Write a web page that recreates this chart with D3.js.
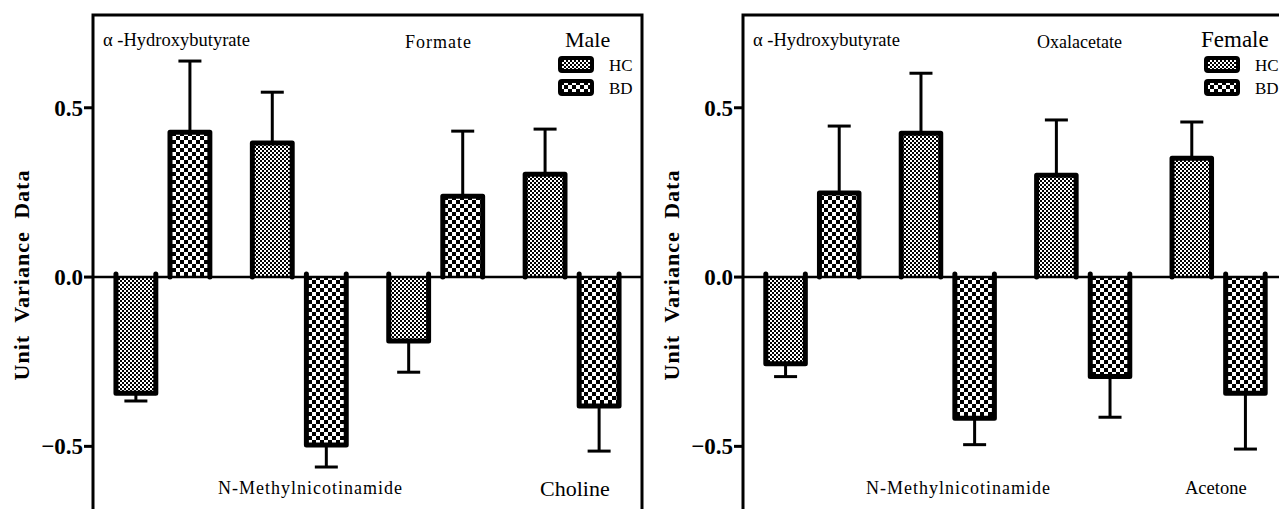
<!DOCTYPE html>
<html>
<head>
<meta charset="utf-8">
<script src="https://cdn.jsdelivr.net/npm/d3@7"></script>
<style>
  body { margin: 0; background: #fff; }
  svg { display: block; }
  text { font-family: "Liberation Serif", "Times New Roman", serif; fill: #000; }
</style>
</head>
<body>
<div id="chart"></div>
<script>
// Data
var groups = ["HC", "BD"]
var yTicks = [-0.5, 0.0, 0.5]

var maleNames = ["α -Hydroxybutyrate", "N-Methylnicotinamide", "Formate", "Choline"]
var maleHC = [-0.343, 0.396, -0.189, 0.304]
var maleHCerr = [0.023, 0.150, 0.092, 0.133]
var maleBD = [0.428, -0.496, 0.239, -0.381]
var maleBDerr = [0.210, 0.065, 0.192, 0.133]

var femaleNames = ["α -Hydroxybutyrate", "N-Methylnicotinamide", "Oxalacetate", "Acetone"]
var femaleHC = [-0.256, 0.425, 0.301, 0.351]
var femaleHCerr = [0.038, 0.177, 0.163, 0.107]
var femaleBD = [0.248, -0.417, -0.294, -0.343]
var femaleBDerr = [0.198, 0.078, 0.120, 0.165]

const W = 1279, H = 509

var svg = d3.select("#chart")
  .append("svg")
  .attr("width", W)
  .attr("height", H)

// fill patterns
var defs = svg.append("defs")
var fine = defs.append("pattern")
  .attr("id", "pat-HC")
  .attr("patternUnits", "userSpaceOnUse")
  .attr("width", 4).attr("height", 4)
fine.append("rect").attr("width", 4).attr("height", 4).attr("fill", "#fff")
fine.append("rect").attr("width", 2).attr("height", 2).attr("fill", "#000")
fine.append("rect").attr("x", 2).attr("y", 2).attr("width", 2).attr("height", 2).attr("fill", "#000")

var coarse = defs.append("pattern")
  .attr("id", "pat-BD")
  .attr("patternUnits", "userSpaceOnUse")
  .attr("width", 8).attr("height", 8)
coarse.append("rect").attr("width", 8).attr("height", 8).attr("fill", "#fff")
coarse.append("rect").attr("width", 4).attr("height", 4).attr("fill", "#000")
coarse.append("rect").attr("x", 4).attr("y", 4).attr("width", 4).attr("height", 4).attr("fill", "#000")

// shared y scale
var y = d3.scaleLinear()
  .domain([-0.75, 0.774])
  .range([531, 15])

function drawPanel(p) {
  var g = svg.append("g")

  var rows = p.names.map(function(name, i) {
    return {
      name: name,
      bars: [
        {key: "HC", value: p.hc[i], err: p.hcErr[i]},
        {key: "BD", value: p.bd[i], err: p.bdErr[i]}
      ]
    }
  })

  var x = d3.scaleBand()
    .domain(p.names)
    .range([p.left, p.right])
    .paddingInner(0.275)
    .paddingOuter(0.15)

  var xSub = d3.scaleBand()
    .domain(groups)
    .range([0, x.bandwidth()])
    .paddingInner(0.17)

  // frame
  g.append("path")
    .attr("d", "M" + p.left + "," + (H + 5) + "V" + y.range()[1] + "H" + p.right + "V" + (H + 5))
    .attr("fill", "none")
    .attr("stroke", "#000")
    .attr("stroke-width", 3)

  var y0 = y(0)
  var bw = xSub.bandwidth()

  var bar = g.selectAll(".bar")
    .data(rows.flatMap(function(r) {
      return r.bars.map(function(b) { return Object.assign({name: r.name}, b) })
    }))
    .enter()
    .append("g")
    .attr("class", "bar")

  // pattern fill
  bar.append("rect")
    .attr("x", function(d) { return x(d.name) + xSub(d.key) + 2.5 })
    .attr("width", bw - 5)
    .attr("y", function(d) { return Math.min(y(d.value), y0) })
    .attr("height", function(d) { return Math.abs(y(d.value) - y0) })
    .attr("fill", function(d) { return "url(#pat-" + d.key + ")" })

  // error bar (away from zero only)
  bar.append("line")
    .attr("x1", function(d) { return x(d.name) + xSub(d.key) + bw / 2 })
    .attr("x2", function(d) { return x(d.name) + xSub(d.key) + bw / 2 })
    .attr("y1", function(d) { return y(d.value) })
    .attr("y2", function(d) { return y(d.value + Math.sign(d.value) * d.err) })
    .attr("stroke", "#000")
    .attr("stroke-width", 3)

  bar.append("line")
    .attr("x1", function(d) { return x(d.name) + xSub(d.key) + bw / 2 - 11.5 })
    .attr("x2", function(d) { return x(d.name) + xSub(d.key) + bw / 2 + 11.5 })
    .attr("y1", function(d) { return y(d.value + Math.sign(d.value) * d.err) })
    .attr("y2", function(d) { return y(d.value + Math.sign(d.value) * d.err) })
    .attr("stroke", "#000")
    .attr("stroke-width", 3)

  // outline: three sides, open at the zero line
  bar.append("path")
    .attr("d", function(d) {
      var xl = x(d.name) + xSub(d.key) + 2.5
      var xr = xl + bw - 5
      var yv = y(d.value)
      var ys = d.value < 0 ? y0 - 3 : y0
      return "M" + xl + "," + ys + "V" + yv + "H" + xr + "V" + ys
    })
    .attr("fill", "none")
    .attr("stroke", "#000")
    .attr("stroke-width", 5)
    .attr("stroke-linejoin", "round")
    .attr("stroke-linecap", "round")

  // zero line
  g.append("line")
    .attr("x1", p.left).attr("x2", p.right)
    .attr("y1", y0).attr("y2", y0)
    .attr("stroke", "#000")
    .attr("stroke-width", 2.5)

  // y axis ticks and labels
  var ticks = g.selectAll(".tick")
    .data(yTicks)
    .enter()
    .append("g")
    .attr("class", "tick")
  ticks.append("line")
    .attr("x1", p.left - 9).attr("x2", p.left)
    .attr("y1", function(d) { return y(d) }).attr("y2", function(d) { return y(d) })
    .attr("stroke", "#000")
    .attr("stroke-width", 3)
  ticks.append("text")
    .attr("x", p.left - 10)
    .attr("y", function(d) { return y(d) })
    .attr("dy", "0.35em")
    .attr("text-anchor", "end")
    .style("font-size", "23px")
    .style("font-weight", "bold")
    .text(function(d) { return d3.format(".1f")(d) })

  // y axis title
  g.append("text")
    .attr("transform", "translate(" + (p.left - 64) + "," + 275 + ") rotate(-90)")
    .attr("text-anchor", "middle")
    .style("font-size", "22px")
    .style("font-weight", "bold")
    .style("letter-spacing", "1px")
    .style("word-spacing", "6px")
    .text("Unit Variance Data")

  // metabolite names
  p.labels.forEach(function(l) {
    g.append("text")
      .attr("x", p.left + l.dx)
      .attr("y", l.y)
      .style("font-size", l.size + "px")
      .style("letter-spacing", (l.ls || 0) + "px")
      .text(l.text)
  })

  // legend
  g.append("text")
    .attr("x", p.left + p.legendDx + p.titleDx)
    .attr("y", 47)
    .style("font-size", p.titleSize + "px")
    .text(p.title)

  var leg = g.selectAll(".leg")
    .data(groups)
    .enter()
    .append("g")
    .attr("class", "leg")
    .attr("transform", function(d, i) { return "translate(" + (p.left + p.legendDx) + "," + (58 + i * 23) + ")" })
  leg.append("rect")
    .attr("width", 32).attr("height", 13)
    .attr("rx", 2)
    .attr("fill", function(d) { return "url(#pat-" + d + ")" })
    .attr("stroke", "#000")
    .attr("stroke-width", 4)
  leg.append("text")
    .attr("x", 49)
    .attr("y", 13)
    .style("font-size", "17px")
    .text(function(d) { return d })
}

drawPanel({
  left: 93, right: 642,
  names: maleNames, hc: maleHC, hcErr: maleHCerr, bd: maleBD, bdErr: maleBDerr,
  title: "Male", titleSize: 22, legendDx: 467, titleDx: 5,
  labels: [
    {text: "α -Hydroxybutyrate", dx: 10, y: 46, size: 18.5},
    {text: "Formate", dx: 312, y: 48, size: 18, ls: 1},
    {text: "N-Methylnicotinamide", dx: 125, y: 494, size: 18, ls: 1},
    {text: "Choline", dx: 447, y: 496, size: 22}
  ]
})

drawPanel({
  left: 743, right: 1288,
  names: femaleNames, hc: femaleHC, hcErr: femaleHCerr, bd: femaleBD, bdErr: femaleBDerr,
  title: "Female", titleSize: 23, legendDx: 463, titleDx: -5,
  labels: [
    {text: "α -Hydroxybutyrate", dx: 10, y: 46, size: 18.5},
    {text: "Oxalacetate", dx: 294, y: 48, size: 18},
    {text: "N-Methylnicotinamide", dx: 123, y: 494, size: 18, ls: 1},
    {text: "Acetone", dx: 442, y: 494, size: 18.5}
  ]
})
</script>
</body>
</html>
